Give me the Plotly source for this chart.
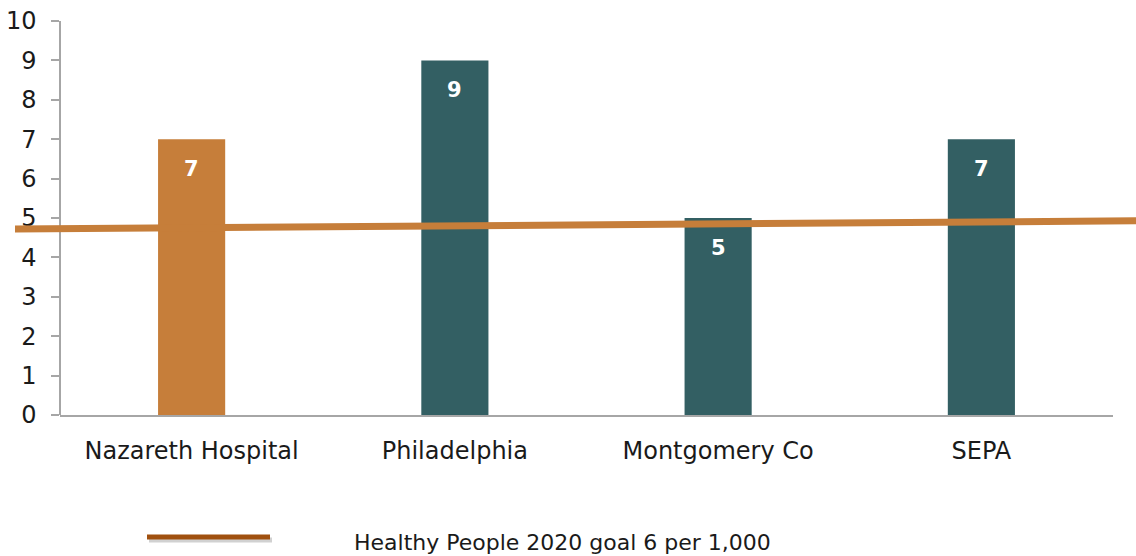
import plotly.graph_objects as go

categories = ["Nazareth Hospital", "Philadelphia", "Montgomery Co", "SEPA"]
values = [7, 9, 5, 7]
bar_colors = ["#C67E3A", "#335F63", "#335F63", "#335F63"]
goal_x = [0, 1]
goal_y = [4.72, 4.93]
goal_label = "Healthy People 2020 goal 6 per 1,000"
y_ticks = list(range(0, 11))

W, H = 1136, 556
ml, mr, mt, mb = 15, 0, 21, 141
pw = W - ml - mr
ph = H - mt - mb
ax_left = (60 - ml) / pw
ax_right = (1113 - ml) / pw

FONT = "DejaVu Sans, sans-serif"

fig = go.Figure()
fig.add_trace(go.Bar(
    x=categories, y=values, marker=dict(color=bar_colors, line=dict(width=0)),
    width=0.255, showlegend=False, hoverinfo="x+y",
))
fig.add_trace(go.Scatter(
    x=goal_x, y=goal_y, mode="lines", xaxis="x2", yaxis="y",
    line=dict(color="#C67E3A", width=7), showlegend=False, name=goal_label,
))

annotations = []
for c, v in zip(categories, values):
    annotations.append(dict(
        x=c, y=v, xref="x", yref="y", text=f"<b>{v}</b>", showarrow=False,
        yshift=-30, font=dict(family=FONT, size=21, color="white"),
    ))

def px_x(p):
    return (p - ml) / pw

def px_y(p):
    return (H - mb - p) / ph

annotations.append(dict(
    x=px_x(352), y=px_y(542), xref="paper", yref="paper", xanchor="left",
    yanchor="middle", text=goal_label, showarrow=False,
    font=dict(family=FONT, size=22, color="#1a1a1a"),
))

shapes = [
    dict(type="line", xref="paper", yref="paper", x0=px_x(149), x1=px_x(272),
         y0=px_y(540), y1=px_y(540), line=dict(color="rgba(0,0,0,0.18)", width=5)),
    dict(type="line", xref="paper", yref="paper", x0=px_x(147), x1=px_x(270),
         y0=px_y(537), y1=px_y(537), line=dict(color="#A0500F", width=5)),
]

fig.update_layout(
    width=W, height=H,
    margin=dict(l=ml, r=mr, t=mt, b=mb, pad=0),
    plot_bgcolor="rgba(0,0,0,0)", paper_bgcolor="white",
    font=dict(family=FONT, size=24, color="#1a1a1a"),
    xaxis=dict(
        domain=[ax_left, ax_right], showline=True, linecolor="#A6A6A6", linewidth=1.5,
        ticks="", showgrid=False, zeroline=False, ticklabelstandoff=13,
        tickfont=dict(family=FONT, size=24, color="#1a1a1a"),
    ),
    xaxis2=dict(domain=[0, 1], range=[0, 1], visible=False,
                anchor="y", fixedrange=True),
    yaxis=dict(
        range=[0, 10], tickvals=y_ticks, anchor="free", position=ax_left,
        showline=True, linecolor="#A6A6A6", linewidth=1.5,
        ticks="outside", ticklen=8, tickcolor="#A6A6A6", tickwidth=1.5,
        showgrid=False, zeroline=False, ticklabelstandoff=10,
        tickfont=dict(family=FONT, size=24, color="#1a1a1a"),
    ),
    annotations=annotations, shapes=shapes,
)

fig.write_html("out.html", config={"displayModeBar": False},
               post_script="document.body.style.margin='0';")
